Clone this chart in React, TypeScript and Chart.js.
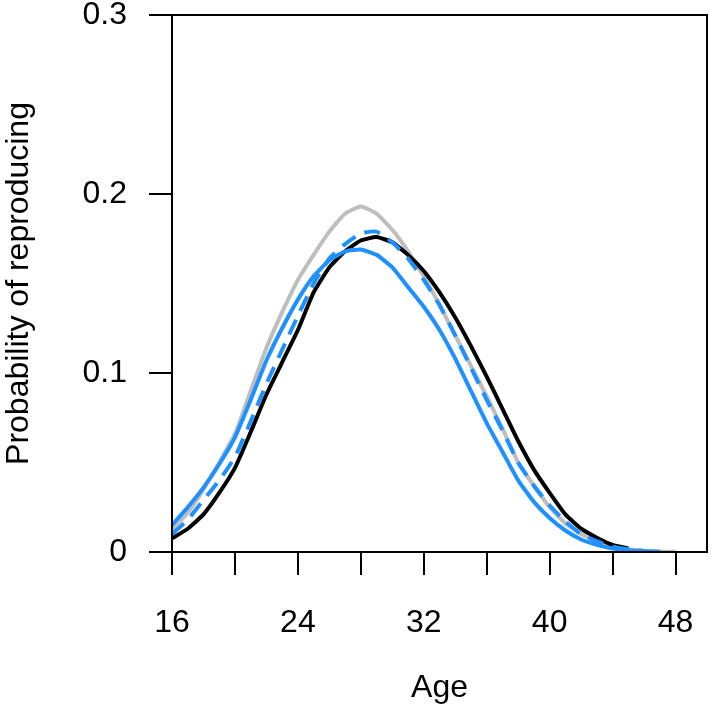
import React, { useEffect, useRef } from "react";
import { Chart, registerables } from "chart.js";

Chart.register(...registerables);

const ages = [16, 17, 18, 19, 20, 21, 22, 23, 24, 25, 26, 27, 28, 29, 30, 31, 32, 33, 34, 35, 36, 37, 38, 39, 40, 41, 42, 43, 44, 45, 46, 47, 48];

const grayValues = [0.012, 0.022, 0.035, 0.05, 0.066, 0.09, 0.114, 0.134, 0.152, 0.166, 0.179, 0.189, 0.193, 0.189, 0.18, 0.168, 0.154, 0.138, 0.121, 0.104, 0.087, 0.069, 0.05, 0.037, 0.025, 0.016, 0.01, 0.006, 0.003, 0.0015, 0.0007, 0.0003, 0.0001];

const blackValues = [0.0076, 0.013, 0.021, 0.033, 0.047, 0.067, 0.088, 0.106, 0.124, 0.145, 0.159, 0.168, 0.174, 0.176, 0.173, 0.166, 0.157, 0.145, 0.131, 0.115, 0.098, 0.08, 0.062, 0.046, 0.033, 0.021, 0.013, 0.008, 0.004, 0.002];

const blueValues = [0.015, 0.025, 0.036, 0.049, 0.064, 0.085, 0.107, 0.125, 0.141, 0.154, 0.163, 0.168, 0.169, 0.166, 0.159, 0.148, 0.137, 0.124, 0.108, 0.09, 0.072, 0.056, 0.04, 0.028, 0.019, 0.012, 0.007, 0.004, 0.002, 0.001, 0.0004, 0.0001];

const dashedValues = [0.01, 0.018, 0.029, 0.04, 0.053, 0.073, 0.094, 0.113, 0.132, 0.15, 0.164, 0.172, 0.178, 0.179, 0.173, 0.164, 0.152, 0.138, 0.121, 0.103, 0.085, 0.068, 0.05, 0.037, 0.026, 0.017, 0.01, 0.006, 0.003, 0.0015, 0.0005];

const xTicks = [16, 20, 24, 28, 32, 36, 40, 44, 48];
const xTickLabels = ["16", "", "24", "", "32", "", "40", "", "48"];
const yTicks = [0, 0.1, 0.2, 0.3];
const yTickLabels = ["0", "0.1", "0.2", "0.3"];

const FONT = "'Liberation Sans', Arial, sans-serif";

function toPoints(vals: number[]) {
  return vals.map((v, i) => ({ x: ages[i], y: v }));
}

const boxPlugin = {
  id: "box",
  afterDraw(chart: any) {
    const { ctx, chartArea } = chart;
    ctx.save();
    ctx.strokeStyle = "#000";
    ctx.lineWidth = 2;
    ctx.strokeRect(chartArea.left, chartArea.top, chartArea.right - chartArea.left, chartArea.bottom - chartArea.top);
    ctx.restore();
  },
};

export default function App() {
  const ref = useRef<HTMLCanvasElement>(null);
  useEffect(() => {
    if (!ref.current) return;
    const chart = new Chart(ref.current, {
      type: "line",
      data: {
        datasets: [
          { data: toPoints(grayValues), borderColor: "#BEBEBE", borderWidth: 4, pointRadius: 0, tension: 0.15, order: 4, fill: false },
          { data: toPoints(blackValues), borderColor: "#000000", borderWidth: 4, pointRadius: 0, tension: 0.15, order: 3, fill: false },
          { data: toPoints(blueValues), borderColor: "#1E90FF", borderWidth: 4, pointRadius: 0, tension: 0.15, order: 2, fill: false },
          { data: toPoints(dashedValues), borderColor: "#1E90FF", borderWidth: 4, borderDash: [16, 10], pointRadius: 0, tension: 0.15, order: 1, fill: false },
        ],
      },
      options: {
        animation: false,
        responsive: false,
        maintainAspectRatio: false,
        layout: { padding: { top: 15, right: 6, left: 0, bottom: 0 } },
        plugins: { legend: { display: false }, tooltip: { enabled: false } },
        scales: {
          x: {
            type: "linear",
            min: 16,
            max: 50,
            afterBuildTicks: (scale: any) => {
              scale.ticks = xTicks.map((v) => ({ value: v }));
            },
            afterFit: (scale: any) => {
              scale.height = 160;
              scale.paddingLeft = 0;
              scale.paddingRight = 0;
            },
            ticks: {
              autoSkip: false,
              maxRotation: 0,
              color: "#000",
              padding: 29,
              font: { family: FONT, size: 32 },
              callback: (_v: any, i: number) => xTickLabels[i],
            },
            grid: { drawOnChartArea: false, drawTicks: true, tickLength: 23, color: "#000", lineWidth: 2 },
            border: { display: true, color: "#000", width: 2 },
            title: { display: true, text: "Age", color: "#000", font: { family: FONT, size: 32 }, padding: { top: 0, bottom: 5 } },
          },
          y: {
            type: "linear",
            min: 0,
            max: 0.3,
            afterBuildTicks: (scale: any) => {
              scale.ticks = yTicks.map((v) => ({ value: v }));
            },
            afterFit: (scale: any) => {
              scale.width = 172;
              scale.paddingTop = 0;
              scale.paddingBottom = 0;
            },
            ticks: {
              color: "#000",
              padding: 22,
              font: { family: FONT, size: 32 },
              callback: (_v: any, i: number) => yTickLabels[i],
            },
            grid: { drawOnChartArea: false, drawTicks: true, tickLength: 23, color: "#000", lineWidth: 2 },
            border: { display: true, color: "#000", width: 2 },
            title: { display: true, text: "Probability of reproducing", color: "#000", font: { family: FONT, size: 32 }, padding: { top: 0, bottom: 0 } },
          },
        },
      },
      plugins: [boxPlugin],
    });
    return () => chart.destroy();
  }, []);
  return (
    <div style={{ position: "fixed", left: 0, top: 0, width: 713, height: 712, background: "#fff" }}>
      <canvas ref={ref} width={713} height={712} style={{ width: 713, height: 712 }} />
    </div>
  );
}
